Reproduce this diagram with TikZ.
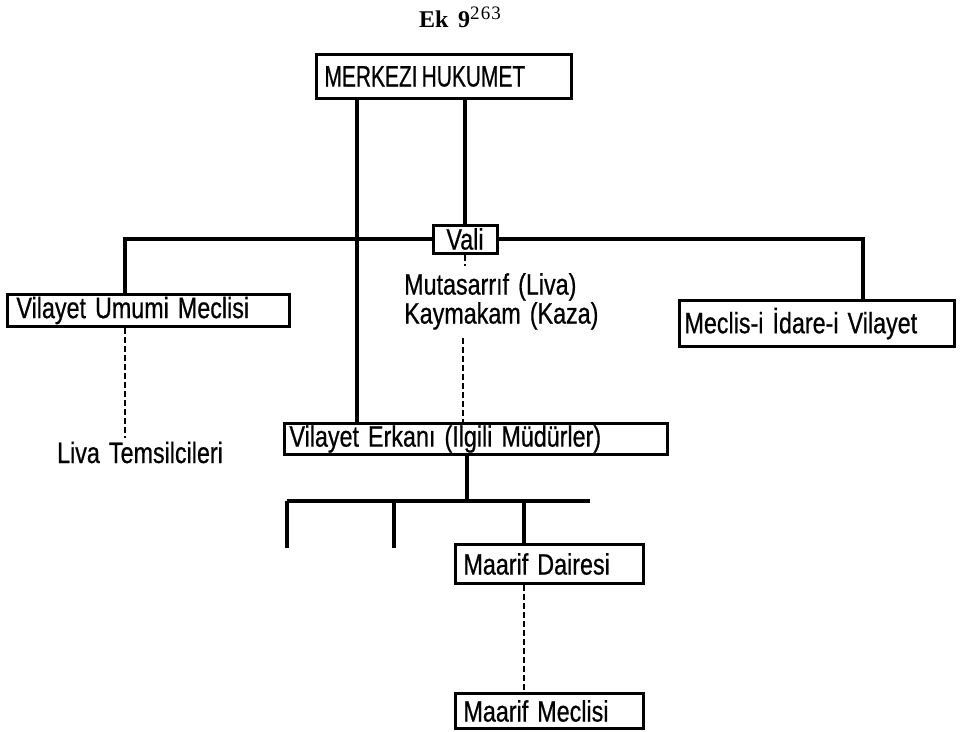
\documentclass[tikz,border=0pt]{standalone}
\usepackage{fontspec}
\setmainfont{Liberation Sans}[FakeStretch=0.79, WordSpace={1.4,0,0}, FakeBold=0.6]
\newfontfamily\dar{Liberation Sans}[FakeStretch=0.71, WordSpace={0.7,0,0}, FakeBold=0.6]
\newfontfamily\baslikfont{Liberation Serif}
\newfontfamily\ustfont{Liberation Serif}[LetterSpace=6]
\usetikzlibrary{calc,positioning}

\tikzset{
  kutu/.style={draw, line width=3pt, inner ysep=0pt, inner xsep=6pt, anchor=north west, align=left,
    execute at begin node={\spaceskip=0pt\relax\xspaceskip=0pt\relax}},
  yazi/.style={inner sep=0pt, execute at begin node={\spaceskip=0pt\relax\xspaceskip=0pt\relax}},
  hat/.style={line width=3.4pt},
  kesik/.style={line width=2.6pt, dash pattern=on 6pt off 3pt}
}

\begin{document}
\begin{tikzpicture}[x=1pt,y=-1pt,font=\fontsize{29.5}{29}\selectfont]
  \useasboundingbox (0,0) rectangle (963,731);
  % baslik
  \node[yazi, anchor=base west] (baslik) at (419,27) {\baslikfont\fontsize{24}{26}\selectfont\bfseries Ek\hspace{0.4em}9\raisebox{8pt}{\ustfont\mdseries\fontsize{19}{19}\selectfont 263}};
  % kutular
  \node[kutu, inner xsep=8pt, text width=239pt, minimum height=44pt] (merkez) at (315,53) {\dar MERKEZI HUKUMET};
  \node[kutu, anchor=center, inner xsep=0pt, minimum width=64pt, minimum height=28pt] (vali) at (465,239) {Vali};
  \node[kutu, inner xsep=9pt, text width=264pt, minimum height=32pt] (umumi) at (6,293) {Vilayet Umumi Meclisi};
  \node[kutu, inner xsep=5pt, text width=265pt, minimum height=46pt] (idare) at (678,299) {Meclis-i İdare-i Vilayet};
  \node[kutu, inner xsep=5pt, text width=373pt, minimum height=31pt] (erkan) at (283,422) {Vilayet Erkanı (Ilgili Müdürler)};
  \node[kutu, inner xsep=8pt, text width=172pt, minimum height=39pt] (daire) at (454,543) {Maarif Dairesi};
  \node[kutu, inner xsep=8pt, text width=172pt, minimum height=35pt] (meclis) at (454,692) {Maarif Meclisi};
  % serbest yazilar
  \node[yazi, anchor=north west, align=left] (mutas) at (404,273) {Mutasarrıf (Liva)\\Kaymakam (Kaza)};
  \node[yazi, anchor=base] (liva) at (140,463) {Liva Temsilcileri};
  % baglantilar
  \coordinate (m1) at ($(merkez.south west)+(42,0)$);
  \coordinate (u1) at ($(umumi.north west)+(119,0)$);
  \coordinate (i1) at ($(idare.north west)+(185,0)$);
  \coordinate (e1) at ($(erkan.south west)+(184,0)$);
  \coordinate (d1) at ($(daire.north west)+(70,0)$);
  \coordinate (k1) at (463,338);
  \draw[hat] (m1) -- (m1 |- erkan.north);
  \draw[hat] (vali.north) -- (vali.north |- merkez.south);
  \draw[hat] (vali.west) -| (u1);
  \draw[hat] (vali.east) -| (i1);
  \draw[kesik] (vali.south) -- ++(0,11);
  \draw[kesik] (k1) -- (k1 |- erkan.north);
  \draw[kesik] (u1 |- umumi.south) -- ++(0,110);
  \draw[hat] (e1) -- ++(0,45) coordinate (b0);
  \draw[hat] (b0 -| 287,0) -- (b0 -| 590,0);
  \foreach \x in {287,394}
    \draw[hat] (b0 -| \x,0) -- ++(0,47);
  \draw[hat] (b0 -| d1) -- (d1);
  \draw[kesik] (d1 |- daire.south) -- (d1 |- meclis.north);
\end{tikzpicture}
\end{document}
